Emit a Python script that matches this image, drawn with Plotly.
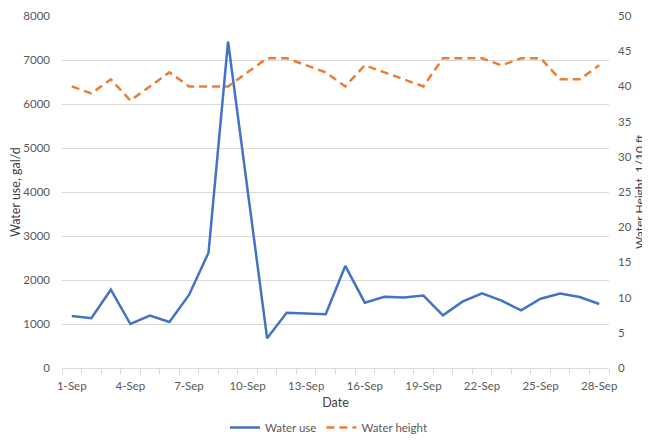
import plotly.graph_objects as go

dates = [f"{d}-Sep" for d in range(1, 29)]
water_use = [1180, 1130, 1780, 1000, 1190, 1045, 1660, 2620, 7420, 4000,
             675, 1257, 1245, 1220, 2320, 1485, 1620, 1600, 1645, 1197,
             1508, 1697, 1530, 1310, 1575, 1690, 1614, 1455]
water_height = [40, 39, 41, 38, 40, 42, 40, 40, 40, 42,
                44, 44, 43, 42, 40, 43, 42, 41, 40, 44,
                44, 44, 43, 44, 44, 41, 41, 43]
tick_labels = dates[::3]

x = list(range(1, len(dates) + 1))
font_family = "Lato, 'Open Sans', sans-serif"
grey = "#595959"
title_col = "#404040"

fig = go.Figure()
fig.add_trace(go.Scatter(x=x, y=water_use, name="Water use", mode="lines",
                         line=dict(color="#4472C4", width=2.5)))
fig.add_trace(go.Scatter(x=x, y=water_height, name="Water height", mode="lines",
                         yaxis="y2",
                         line=dict(color="#ED7D31", width=2.5, dash="8px,5px")))

fig.update_layout(
    width=642, height=434,
    margin=dict(l=54, r=41, t=8, b=74, autoexpand=False),
    paper_bgcolor="white", plot_bgcolor="white",
    font=dict(family=font_family, size=11, color=grey),
    showlegend=True,
    legend=dict(orientation="h", xref="container", yref="container",
                x=0.5, xanchor="center", y=-0.035, yanchor="bottom",
                font=dict(size=11.5, color=grey), itemwidth=30,
                traceorder="normal"),
    xaxis=dict(
        range=[0.5, len(dates) + 0.5],
        automargin=False,
        tickmode="array",
        tickvals=x[::3], ticktext=tick_labels,
        ticks="", showgrid=False, zeroline=False,
        ticklabelstandoff=7,
        showline=True, linecolor="#d9d9d9", linewidth=1,
        tickfont=dict(size=11.5, color=grey),
        minor=dict(tickmode="array",
                   tickvals=[i + 0.5 for i in range(len(dates) + 1)],
                   ticks="outside", ticklen=5, tickcolor="#d9d9d9",
                   showgrid=False),
        title=dict(text="Date", font=dict(size=12.5, color=title_col), standoff=7),
    ),
    yaxis=dict(
        range=[0, 8000], dtick=1000, showgrid=True, gridcolor="#d9d9d9",
        automargin=False,
        gridwidth=1, zeroline=False, showline=False, ticks="",
        ticklabelstandoff=11,
        tickfont=dict(size=11.5, color=grey),
    ),
    yaxis2=dict(
        range=[0, 50], dtick=5, overlaying="y", side="right", showgrid=False,
        automargin=False,
        zeroline=False, showline=False, ticks="",
        ticklabelstandoff=8,
        tickfont=dict(size=11.5, color=grey),
    ),
    annotations=[
        dict(text="Water use, gal/d", xref="paper", yref="paper", x=0, y=0.5,
             xanchor="center", yanchor="middle", xshift=-47, textangle=-90,
             showarrow=False, font=dict(size=12.5, color=title_col)),
        dict(text="Water Height, 1/10 ft", xref="paper", yref="paper", x=1, y=0.5,
             xanchor="center", yanchor="middle", xshift=30, textangle=-90,
             showarrow=False, font=dict(size=12, color=title_col)),
    ],
)

fig.write_html("out.html")
